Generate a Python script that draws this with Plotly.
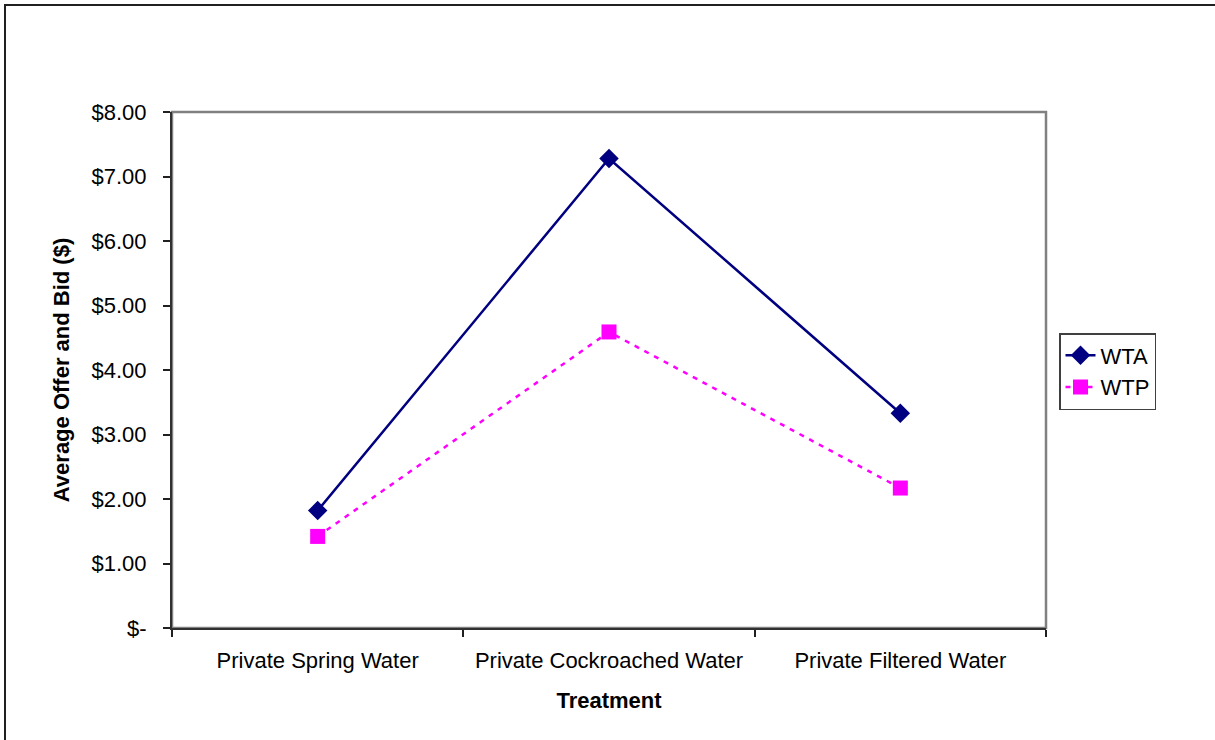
import plotly.graph_objects as go

# Average offers (WTA) and bids (WTP) per treatment, in dollars
treatments = ["Private Spring Water", "Private Cockroached Water", "Private Filtered Water"]
wta = [1.82, 7.28, 3.33]
wtp = [1.42, 4.59, 2.17]

y_tick_values = [0, 1, 2, 3, 4, 5, 6, 7, 8]
y_tick_labels = ["$-", "$1.00", "$2.00", "$3.00", "$4.00", "$5.00", "$6.00", "$7.00", "$8.00"]

W, H = 1215, 740
M_L, M_R, M_T, M_B = 172, 169, 112, 112
PW, PH = W - M_L - M_R, H - M_T - M_B

FONT = "Liberation Sans, Arial, sans-serif"
FS = 22

fig = go.Figure()

fig.add_trace(go.Scatter(
    x=treatments, y=wta, name="WTA", mode="lines+markers",
    line=dict(color="#000080", width=2.5),
    marker=dict(symbol="diamond", size=15, color="#000080"),
))
fig.add_trace(go.Scatter(
    x=treatments, y=wtp, name="WTP", mode="lines+markers",
    line=dict(color="#FF00FF", width=2.5, dash="5px,6px"),
    marker=dict(symbol="square", size=15, color="#FF00FF"),
))

def px_x(p):
    return (p - M_L) / PW

def px_y(p):
    return (H - M_B - p) / PH

shapes = [
    # outer chart frame (extends past right and bottom edges)
    dict(type="rect", xref="paper", yref="paper",
         x0=px_x(5), x1=px_x(W + 20), y0=px_y(H + 20), y1=px_y(5),
         line=dict(color="#202020", width=2), layer="below"),
    # plot area border
    dict(type="rect", xref="paper", yref="paper", x0=0, x1=1, y0=0, y1=1,
         line=dict(color="#808080", width=2.5), layer="below"),
]

fig.update_layout(
    width=W, height=H,
    margin=dict(l=M_L, r=M_R, t=M_T, b=M_B),
    paper_bgcolor="white", plot_bgcolor="white",
    font=dict(family=FONT, size=FS, color="black"),
    shapes=shapes,
    showlegend=True,
    legend=dict(
        x=px_x(1059), y=px_y(333), xanchor="left", yanchor="top",
        bordercolor="#404040", borderwidth=1.5, bgcolor="white",
        font=dict(family=FONT, size=FS), tracegroupgap=0,
    ),
    xaxis=dict(
        type="category", tickson="boundaries", ticks="outside", ticklen=7,
        tickcolor="#202020", tickwidth=1.5,
        showline=True, linecolor="#303030", linewidth=2,
        showgrid=False, zeroline=False, range=[-0.5, 2.5],
        ticklabelstandoff=12,
        title=dict(text="<b>Treatment</b>", font=dict(size=FS), standoff=20),
    ),
    yaxis=dict(
        range=[0, 8], tickvals=y_tick_values, ticktext=y_tick_labels,
        ticks="outside", ticklen=7, tickcolor="#202020", tickwidth=1.5,
        showline=True, linecolor="#303030", linewidth=2,
        showgrid=False, zeroline=False,
        ticklabelstandoff=12,
        title=dict(text="<b>Average Offer and Bid ($)</b>", font=dict(size=FS), standoff=16),
    ),
)

fig.write_html("out.html")
